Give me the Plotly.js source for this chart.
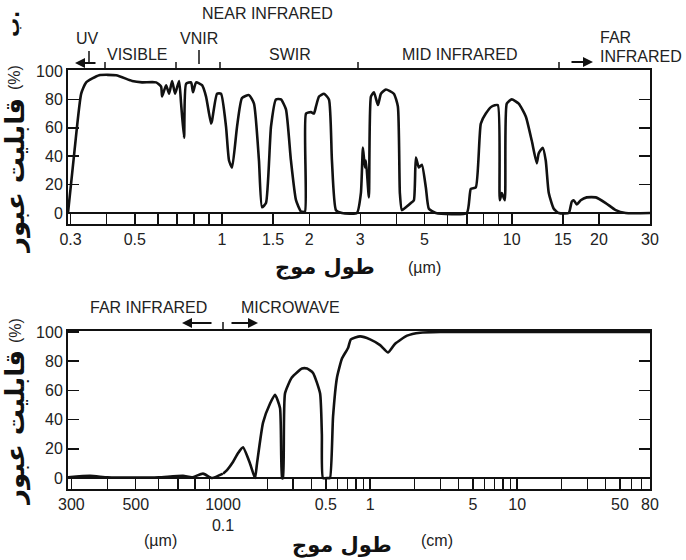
<!DOCTYPE html>
<html>
<head>
<meta charset="utf-8">
<script src="https://cdn.plot.ly/plotly-3.0.1.min.js"></script>
<style>html,body{margin:0;padding:0;background:#fff;}</style>
</head>
<body>
<div id="chart" style="width:686px;height:560px;"></div>
<script>
// ---- Top panel: wavelength (µm) vs transmission (%) ----
const topWavelengthUm = [0.294,0.310,0.3265,0.3397,0.3766,0.431,0.4895,0.5297,0.5922,0.6162,0.621,0.641,0.6566,0.6725,0.6887,0.7109,0.7223,0.7396,0.7515,0.7819,0.794,0.8135,0.8532,0.8806,0.9164,0.9237,0.9611,0.992,1.032,1.057,1.083,1.127,1.172,1.239,1.289,1.341,1.374,1.418,1.476,1.535,1.597,1.662,1.729,1.8,1.873,1.933,1.949,2.027,2.076,2.11,2.161,2.248,2.339,2.395,2.473,2.594,2.921,3.015,3.064,3.113,3.138,3.213,3.265,3.344,3.452,3.535,3.678,3.918,4.045,4.11,4.176,4.311,4.486,4.594,4.667,4.779,4.895,5.052,5.174,5.47,6.996,7.222,7.514,7.82,8.136,8.531,8.949,9.092,9.237,9.46,9.611,10,10.57,11.18,11.72,12.2,12.39,12.79,13.1,13.42,13.96,14.53,15.73,16.11,16.36,16.76,17.3,18.14,19.49,21.1,22.84,24.72,30];
const topTransmission = [0,45,84,92,97,97,93,92,92,89,82,90,84,93,84,93,77,53,91,92,85,92,90,82,63,65,84,84,61,37,32,61,81,83,77,37,4,7,61,80,80,73,37,9,1,1,70,71,70,75,82,84,80,37,2,0,0,14,46,32,37,11,82,85,76,84,87,84,75,14,2,4,7,9,39,32,34,18,3,0,0,17,18,63,70,75,76,9,14,9,77,80,77,68,51,35,42,46,37,14,3,0,0,8,9,6,9,11,11,7,2,0,0];

// ---- Bottom panel: wavelength (cm) vs transmission (%) ----
const bottomWavelengthCm = [0.0292,0.0348,0.040,0.050,0.060,0.0728,0.0782,0.0853,0.0917,0.1,0.1065,0.1169,0.1264,0.1368,0.1526,0.165,0.1703,0.1872,0.2089,0.2258,0.2441,0.252,0.2558,0.264,0.2944,0.3445,0.3727,0.4094,0.457,0.47,0.4786,0.518,0.534,0.56,0.596,0.645,0.708,0.74,0.855,1.0,1.17,1.326,1.48,1.785,2.19,3.0,80];
const bottomTransmission = [0.5,1.5,0.5,0.3,0.5,1.5,0.5,3,0,3,5.5,11,17,21,10,0,10,38,51,57,48,0,0,58,69,75,75,72,58,30,0,0,0,42,69,82,89,95,97,95,91,86,92,97.5,99.5,100,100];

// ---- Tick labels ----
const topTickVals = [0.3,0.4,0.5,0.6,0.7,0.8,0.9,1,1.5,2,3,4,5,6,7,8,9,10,15,20,30];
const topTickText = ["0.3","","0.5","","","","","1","1.5","2","3","","5","","","","","10","15","20","30"];
const bottomLeftTickVals = [0.03,0.04,0.05,0.06,0.07,0.08,0.09,0.1];
const bottomLeftTickText = ["300","","500","","","","","1000<br>0.1"];
const bottomRightTickVals = [0.2,0.3,0.4,0.5,0.6,0.7,0.8,0.9,1,2,3,4,5,6,7,8,9,10,20,30,40,50,60,70,80];
const bottomRightTickText = ["","","","0.5","","","","","1","","","","5","","","","","10","","","","50","","","80"];
const yTickVals = [0,20,40,60,80,100];

// pixel helpers for decorations (paper coords)
const L = 68, W = 582, H = 560;
const px = x => (x - L) / W;
const py = y => (H - y) / H;

const ink = '#111';
const tickFont = {family: 'Liberation Sans, Arial, sans-serif', size: 16, color: '#222'};
const labFont = {family: 'Liberation Sans, Arial, sans-serif', size: 16, color: '#222'};
const faFontY = {family: 'DejaVu Sans, sans-serif', size: 26, color: '#111'};
const faFontX = {family: 'DejaVu Sans, sans-serif', size: 21, color: '#111'};

const splitX = 0.1;
const leftIdx = bottomWavelengthCm.map((v,i)=>i).filter(i => bottomWavelengthCm[i] <= splitX);
const rightIdx = bottomWavelengthCm.map((v,i)=>i).filter(i => bottomWavelengthCm[i] >= splitX);

const lineStyle = {color: ink, width: 2.6, shape: 'spline', smoothing: 0.5};
const traces = [
  {x: topWavelengthUm, y: topTransmission, type: 'scatter', mode: 'lines', line: lineStyle, xaxis: 'x', yaxis: 'y', hoverinfo: 'skip', cliponaxis: true},
  {x: leftIdx.map(i=>bottomWavelengthCm[i]), y: leftIdx.map(i=>bottomTransmission[i]), type: 'scatter', mode: 'lines', line: lineStyle, xaxis: 'x2', yaxis: 'y2', hoverinfo: 'skip'},
  {x: rightIdx.map(i=>bottomWavelengthCm[i]), y: rightIdx.map(i=>bottomTransmission[i]), type: 'scatter', mode: 'lines', line: lineStyle, xaxis: 'x3', yaxis: 'y3', hoverinfo: 'skip'}
];

const xCommon = {type: 'log', tickmode: 'array', ticks: 'inside', ticklen: 11, tickwidth: 1.5, tickcolor: ink,
  showline: true, linecolor: ink, linewidth: 2, mirror: true, showgrid: false, zeroline: false, tickfont: tickFont, fixedrange: true};
const yCommon = {tickmode: 'array', tickvals: yTickVals, ticks: 'inside', ticklen: 11, tickwidth: 1.5, tickcolor: ink,
  showline: true, linecolor: ink, linewidth: 2, showgrid: false, zeroline: true, zerolinecolor: ink, zerolinewidth: 2, tickfont: tickFont, fixedrange: true};

const topDom = [py(224), py(70)];
const botDom = [py(489), py(331)];

const layout = {
  width: 686, height: 560, margin: {l: 68, r: 36, t: 0, b: 0},
  paper_bgcolor: '#fff', plot_bgcolor: '#fff', showlegend: false,
  xaxis: Object.assign({}, xCommon, {domain: [0, 1], range: [Math.log10(0.294), Math.log10(30)], anchor: 'y', tickvals: topTickVals, ticktext: topTickText}),
  yaxis: Object.assign({}, yCommon, {domain: topDom, anchor: 'x', mirror: 'ticks', range: [-7.75, 100.7]}),
  xaxis2: Object.assign({}, xCommon, {domain: [0, px(223)], range: [Math.log10(0.0292), -1], anchor: 'y2', tickvals: bottomLeftTickVals, ticktext: bottomLeftTickText}),
  yaxis2: Object.assign({}, yCommon, {domain: botDom, anchor: 'x2', mirror: false, range: [-7.5, 100.7]}),
  xaxis3: Object.assign({}, xCommon, {domain: [px(223), 1], range: [-1, Math.log10(80)], anchor: 'y3', tickvals: bottomRightTickVals, ticktext: bottomRightTickText}),
  yaxis3: Object.assign({}, yCommon, {domain: botDom, anchor: 'x3', side: 'right', showticklabels: false, mirror: false, range: [-7.5, 100.7]}),
  shapes: [],
  annotations: []
};

const vline = (x, y0, y1) => ({type: 'line', xref: 'paper', yref: 'paper', x0: px(x), x1: px(x), y0: py(y0), y1: py(y1), line: {color: ink, width: 1.5}});
// region boundary marks on top border (top panel)
[105, 176, 220, 358, 559].forEach(x => layout.shapes.push(vline(x, 70, 62)));
// label markers under UV and VNIR
layout.shapes.push(vline(89, 51, 62));
layout.shapes.push(vline(199, 50, 64));
// boundary mark on bottom panel top border
layout.shapes.push(vline(223, 331, 322));

const txt = (t, x, y, opts) => Object.assign({text: t, xref: 'paper', yref: 'paper', x: px(x), y: py(y), showarrow: false, xanchor: 'center', yanchor: 'middle', font: labFont}, opts || {});
const arrow = (xHead, xTail, y) => ({text: '', xref: 'paper', yref: 'paper', x: px(xHead), y: py(y), ax: xTail - xHead, ay: 0, showarrow: true, arrowhead: 2, arrowsize: 1, arrowwidth: 2, arrowcolor: ink});

layout.annotations.push(
  txt('NEAR INFRARED', 267, 13),
  txt('UV', 87, 39),
  txt('VISIBLE', 137, 55),
  txt('VNIR', 199, 39),
  txt('SWIR', 290, 55),
  txt('MID INFRARED', 460, 55),
  txt('FAR', 598, 38, {xanchor: 'left'}),
  txt('INFRARED', 598, 57, {xanchor: 'left'}),
  arrow(75, 97, 63),
  arrow(593, 570, 62),
  txt('FAR INFRARED', 148, 307),
  txt('MICROWAVE', 290, 307),
  arrow(182, 213, 323),
  arrow(258, 230, 323),
  // panel letter
  txt('<b>ب.</b>', 12, 24, {textangle: -90, font: {family: 'DejaVu Sans, sans-serif', size: 19, color: '#111'}}),
  // y titles
  txt('<b>قابلیت عبور</b>', 15, 176, {textangle: -90, font: faFontY}),
  txt('(%)', 15, 78, {textangle: -90, font: labFont}),
  txt('<b>قابلیت عبور</b>', 15, 428, {textangle: -90, font: faFontY}),
  txt('(%)', 15, 331, {textangle: -90, font: labFont}),
  // x titles
  txt('<b>طول موج</b>', 325, 267, {font: faFontX}),
  txt('(µm)', 424, 267),
  txt('<b>طول موج</b>', 342, 545, {font: faFontX}),
  txt('(µm)', 160, 540),
  txt('(cm)', 437, 540)
);

Plotly.newPlot('chart', traces, layout, {staticPlot: true, displayModeBar: false});
</script>
</body>
</html>
